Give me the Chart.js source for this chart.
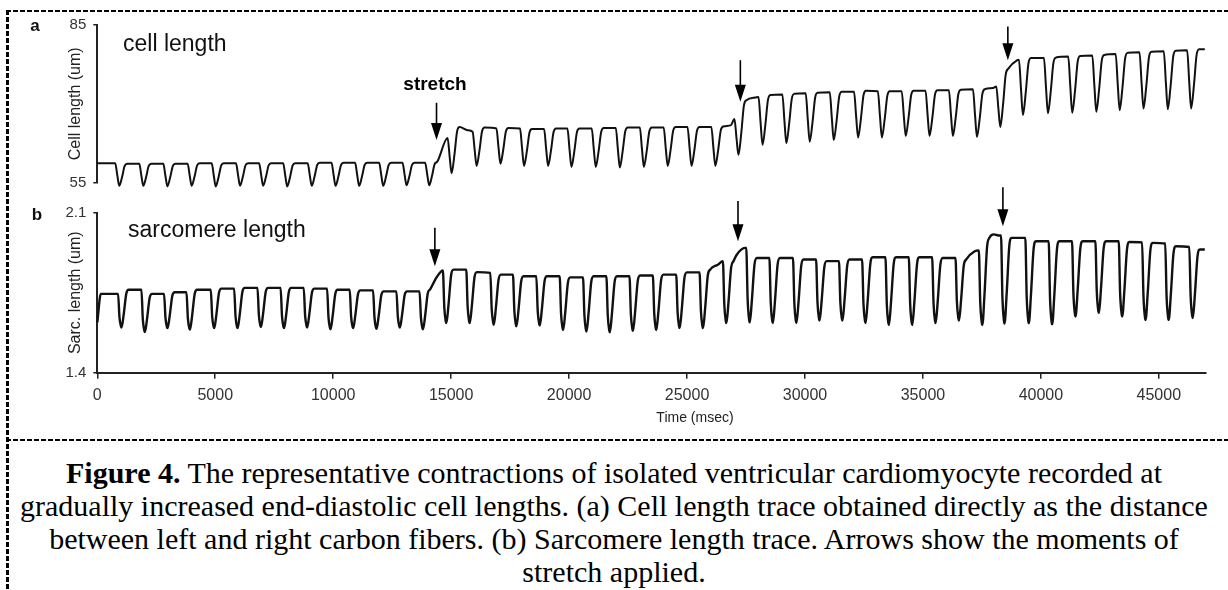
<!DOCTYPE html>
<html>
<head>
<meta charset="utf-8">
<script src="https://cdn.jsdelivr.net/npm/chart.js@4.4.1/dist/chart.umd.min.js"></script>
<style>
  html, body { margin: 0; padding: 0; background: #fff; }
  body { width: 1228px; height: 590px; position: relative; overflow: hidden;
         font-family: "Liberation Sans", Arial, sans-serif; color: #111; }
  canvas { position: absolute; left: 0; }
  #cellChart { top: 0; }
  #sarcChart { top: 185px; }
  .lbl { position: absolute; white-space: nowrap; line-height: 1; }
  .center { transform: translate(-50%, -50%); }
  .dash-h { position: absolute; left: 6px; right: 0; height: 2px;
            background: repeating-linear-gradient(to right, #000 0 5px, transparent 5px 7px); }
  .dash-v { position: absolute; left: 6px; top: 10px; bottom: 0; width: 3px;
            background: repeating-linear-gradient(to bottom, #000 0 5px, transparent 5px 7px); }
  #caption { position: absolute; left: 0; top: 456px; width: 1228px; text-align: center;
             font-family: "Liberation Serif", "Times New Roman", serif; font-size: 30px;
             line-height: 33px; color: #000; white-space: nowrap; }
</style>
</head>
<body>
<div class="dash-h" style="top:10px"></div>
<div class="dash-h" style="top:439px"></div>
<div class="dash-v"></div>

<canvas id="cellChart" width="1228" height="200"></canvas>
<canvas id="sarcChart" width="1228" height="255"></canvas>

<div class="lbl center" style="left:35px; top:25px; font-weight:bold; font-size:17px;">a</div>
<div class="lbl center" style="left:37px; top:214px; font-weight:bold; font-size:17px;">b</div>
<div class="lbl" style="left:123px; top:32px; font-size:23px;">cell length</div>
<div class="lbl" style="left:128px; top:218px; font-size:23px;">sarcomere length</div>
<div class="lbl center" style="left:695px; top:417px; font-size:14px; color:#222;">Time (msec)</div>

<div id="caption"><b>Figure 4.</b> The representative contractions of isolated ventricular cardiomyocyte recorded at<br>gradually increased end-diastolic cell lengths. (a) Cell length trace obtained directly as the distance<br>between left and right carbon fibers. (b) Sarcomere length trace. Arrows show the moments of<br>stretch applied.</div>

<script>
Chart.defaults.font.family = '"Liberation Sans", Arial, sans-serif';

// axis ticks
const timeTicks = [0, 5000, 10000, 15000, 20000, 25000, 30000, 35000, 40000, 45000];
const cellTicks = [55, 85];
const sarcTicks = [1.4, 2.1];

// (a) cell length: time of each contraction minimum (msec), resting level before / after, minimum (um)
const cellBeatT = [930, 1950, 2970, 4000, 5020, 6050, 7030, 8050, 9090, 10100, 11100, 12120, 13110, 14070,
  15020,
  16080, 17090, 18090, 19110, 20100, 21130, 22150, 23170, 24180, 25190, 26200, 27180,
  28200, 29210, 30200, 31220, 32250, 33260, 34270, 35280, 36270, 37290, 38280,
  39240, 40300, 41330, 42350, 43340, 44350, 45380, 46370];
const cellPre = [58.7, 58.6, 58.6, 58.6, 58.7, 58.7, 58.7, 58.7, 58.7, 58.8, 58.8, 58.8, 58.8, 58.8,
  63.5,
  64.7, 65.3, 65.3, 65.2, 65.3, 65.3, 65.4, 65.5, 65.5, 65.6, 65.6, 67.1,
  71.3, 71.8, 72.0, 72.2, 72.3, 72.4, 72.4, 72.5, 72.6, 72.8, 73.3,
  78.4, 78.7, 79.0, 79.2, 79.5, 79.8, 80.0, 80.2];
const cellMin = [54.4, 54.4, 54.3, 54.4, 54.3, 54.4, 54.4, 54.3, 54.4, 54.4, 54.4, 54.4, 54.5, 54.5,
  56.8,
  58.2, 58.6, 58.2, 58.2, 58.0, 58.0, 57.9, 58.0, 58.2, 58.2, 58.2, 60.3,
  62.2, 62.5, 62.8, 63.1, 63.6, 63.6, 63.9, 63.9, 63.9, 63.7, 65.6,
  67.9, 68.2, 68.3, 68.5, 68.8, 69.1, 69.0, 69.1];
const cellPost = [58.6, 58.6, 58.6, 58.7, 58.7, 58.7, 58.7, 58.7, 58.8, 58.8, 58.8, 58.8, 58.8, 59.0,
  65.6,
  65.5, 65.4, 65.2, 65.3, 65.3, 65.4, 65.5, 65.5, 65.6, 65.6, 65.7, 70.7,
  71.7, 71.9, 72.1, 72.3, 72.5, 72.4, 72.5, 72.6, 72.7, 72.8, 76.7,
  78.7, 78.8, 79.1, 79.3, 79.7, 79.9, 80.1, 80.4];
const cellExtra = [[0, 58.7], [15700, 65.0], [26850, 65.9], [27900, 71.2], [37950, 73.0], [39000, 78.3], [46950, 80.4]];

// (b) sarcomere length (um)
const sarcBeatT = [1030, 2020, 2980, 3930, 4960, 5950, 6940, 7920, 8900, 9890, 10850, 11840, 12830, 13810,
  14800,
  15790, 16810, 17770, 18760, 19750, 20740, 21730, 22710, 23700, 24690, 25680, 26670, 27660, 28640, 29640, 30620, 31590,
  32570, 33560, 34550, 35540, 36530, 37520, 38460, 39490, 40480, 41470, 42460, 43450, 44440, 45420, 46440];
const sarcPre = [1.745, 1.763, 1.745, 1.752, 1.763, 1.768, 1.771, 1.771, 1.771, 1.768, 1.763, 1.760, 1.756, 1.756,
  1.847,
  1.851, 1.837, 1.829, 1.822, 1.822, 1.817, 1.822, 1.822, 1.825, 1.829, 1.839, 1.888, 1.946, 1.902, 1.902, 1.895, 1.888,
  1.895, 1.905, 1.905, 1.905, 1.902, 1.935, 2.000, 1.990, 1.975, 1.975, 1.975, 1.975, 1.970, 1.965, 1.950];
const sarcMin = [1.598, 1.578, 1.595, 1.589, 1.595, 1.595, 1.600, 1.595, 1.598, 1.590, 1.595, 1.592, 1.598, 1.590,
  1.617,
  1.617, 1.610, 1.603, 1.606, 1.587, 1.580, 1.577, 1.583, 1.587, 1.595, 1.595, 1.617, 1.620, 1.617, 1.617, 1.628, 1.628,
  1.617, 1.609, 1.609, 1.617, 1.628, 1.609, 1.615, 1.617, 1.612, 1.646, 1.661, 1.646, 1.631, 1.631, 1.639];
const sarcPost = [1.763, 1.745, 1.752, 1.763, 1.768, 1.771, 1.771, 1.771, 1.768, 1.763, 1.760, 1.756, 1.756, 1.765,
  1.851,
  1.840, 1.829, 1.822, 1.822, 1.817, 1.822, 1.822, 1.825, 1.829, 1.839, 1.851, 1.888, 1.902, 1.902, 1.895, 1.888, 1.895,
  1.905, 1.905, 1.905, 1.902, 1.895, 1.990, 1.990, 1.975, 1.975, 1.975, 1.975, 1.972, 1.968, 1.953, 1.939];
const sarcExtra = [[0, 1.62], [150, 1.745], [14400, 1.820], [26300, 1.872], [27100, 1.915], [27450, 1.946],
  [37200, 1.931], [38000, 2.005], [38250, 2.000], [46950, 1.939]];

// twitch outline: [msec from minimum, fraction of the drop]
const cellShape = [[-170, 0], [-80, 0.55], [0, 1], [120, 0.6], [230, 0.1], [340, 0]];
const sarcShape = [[-150, 0], [-90, 0.7], [-25, 0.97], [0, 1], [90, 0.65], [200, 0.1], [300, 0]];

function buildTrace(beatT, pre, minV, post, extra, shape) {
  const pts = extra.map(p => ({ x: p[0], y: p[1] }));
  beatT.forEach((t, i) => {
    shape.forEach(([dt, f]) => {
      const rest = dt <= 0 ? pre[i] : post[i];
      pts.push({ x: t + dt, y: rest - f * (rest - minV[i]) });
    });
  });
  return pts.sort((a, b) => a.x - b.x);
}

const cellTrace = buildTrace(cellBeatT, cellPre, cellMin, cellPost, cellExtra, cellShape);
const sarcTrace = buildTrace(sarcBeatT, sarcPre, sarcMin, sarcPost, sarcExtra, sarcShape);

// arrows marking the stretches
const stretchArrows = {
  id: 'stretchArrows',
  afterDatasetsDraw(chart, args, opts) {
    const { ctx, scales: { x, y } } = chart;
    ctx.save();
    ctx.strokeStyle = '#000';
    ctx.fillStyle = '#000';
    ctx.lineWidth = 1.6;
    opts.t.forEach((t, i) => {
      const px = x.getPixelForValue(t);
      const y0 = y.getPixelForValue(opts.top[i]);
      const y1 = y.getPixelForValue(opts.tip[i]);
      const head = 17, half = 5.5;
      ctx.beginPath();
      ctx.moveTo(px, y0);
      ctx.lineTo(px, y1 - head + 1);
      ctx.stroke();
      ctx.beginPath();
      ctx.moveTo(px - half, y1 - head);
      ctx.lineTo(px + half, y1 - head);
      ctx.lineTo(px, y1);
      ctx.closePath();
      ctx.fill();
    });
    if (opts.label) {
      ctx.font = 'bold 19px "Liberation Sans", Arial, sans-serif';
      ctx.textAlign = 'center';
      ctx.textBaseline = 'alphabetic';
      ctx.fillText(opts.label.text, x.getPixelForValue(opts.label.t), y.getPixelForValue(opts.label.v));
    }
    ctx.restore();
  }
};

function yAxis(min, max, tickList, title) {
  return {
    type: 'linear',
    min: min,
    max: max,
    afterBuildTicks: s => { s.ticks = tickList.map(v => ({ value: v })); },
    afterFit: s => { s.width = 97.3; },
    border: { display: true, color: '#222', width: 2 },
    grid: { drawOnChartArea: false, drawTicks: true, tickLength: 4, color: '#222', lineWidth: 1.5 },
    ticks: { font: { size: 15 }, color: '#333', padding: 7, callback: v => String(v) },
    title: { display: true, text: title, font: { size: 16 }, color: '#222', padding: { top: 66.4, bottom: 0 } }
  };
}

new Chart(document.getElementById('cellChart'), {
  type: 'line',
  data: {
    datasets: [{
      data: cellTrace,
      borderColor: '#111',
      borderWidth: 2,
      pointRadius: 0,
      cubicInterpolationMode: 'monotone',
      clip: false,
      fill: false
    }]
  },
  options: {
    responsive: false,
    animation: false,
    devicePixelRatio: 1,
    layout: { padding: { top: 25, bottom: 17.3, left: 0, right: 22 } },
    plugins: {
      legend: { display: false },
      tooltip: { enabled: false },
      stretchArrows: {
        t: [14380, 27260, 38600],
        top: [70.2, 78.3, 84.7],
        tip: [63.1, 70.4, 78.3],
        label: { text: 'stretch', t: 14316, v: 72.6 }
      }
    },
    scales: {
      x: { type: 'linear', min: 0, max: 47000, display: false },
      y: yAxis(55, 85, cellTicks, 'Cell length (um)')
    }
  },
  plugins: [stretchArrows]
});

new Chart(document.getElementById('sarcChart'), {
  type: 'line',
  data: {
    datasets: [{
      data: sarcTrace,
      borderColor: '#111',
      borderWidth: 2.4,
      pointRadius: 0,
      cubicInterpolationMode: 'monotone',
      clip: false,
      fill: false
    }]
  },
  options: {
    responsive: false,
    animation: false,
    devicePixelRatio: 1,
    layout: { padding: { top: 27.7, bottom: 0, left: 0, right: 22 } },
    plugins: {
      legend: { display: false },
      tooltip: { enabled: false },
      stretchArrows: {
        t: [14310, 27160, 38390],
        top: [2.034, 2.151, 2.211],
        tip: [1.866, 1.975, 2.041]
      }
    },
    scales: {
      x: {
        type: 'linear',
        min: 0,
        max: 47000,
        afterBuildTicks: s => { s.ticks = timeTicks.map(v => ({ value: v })); },
        afterFit: s => { s.height = 67.3; },
        border: { display: true, color: '#222', width: 2 },
        grid: { drawOnChartArea: false, drawTicks: true, tickLength: 6, color: '#222', lineWidth: 1.5 },
        ticks: { font: { size: 16 }, color: '#333', padding: 7, maxRotation: 0, autoSkip: false, callback: v => String(v) }
      },
      y: yAxis(1.4, 2.1, sarcTicks, 'Sarc. length (um)')
    }
  },
  plugins: [stretchArrows]
});
</script>
</body>
</html>
